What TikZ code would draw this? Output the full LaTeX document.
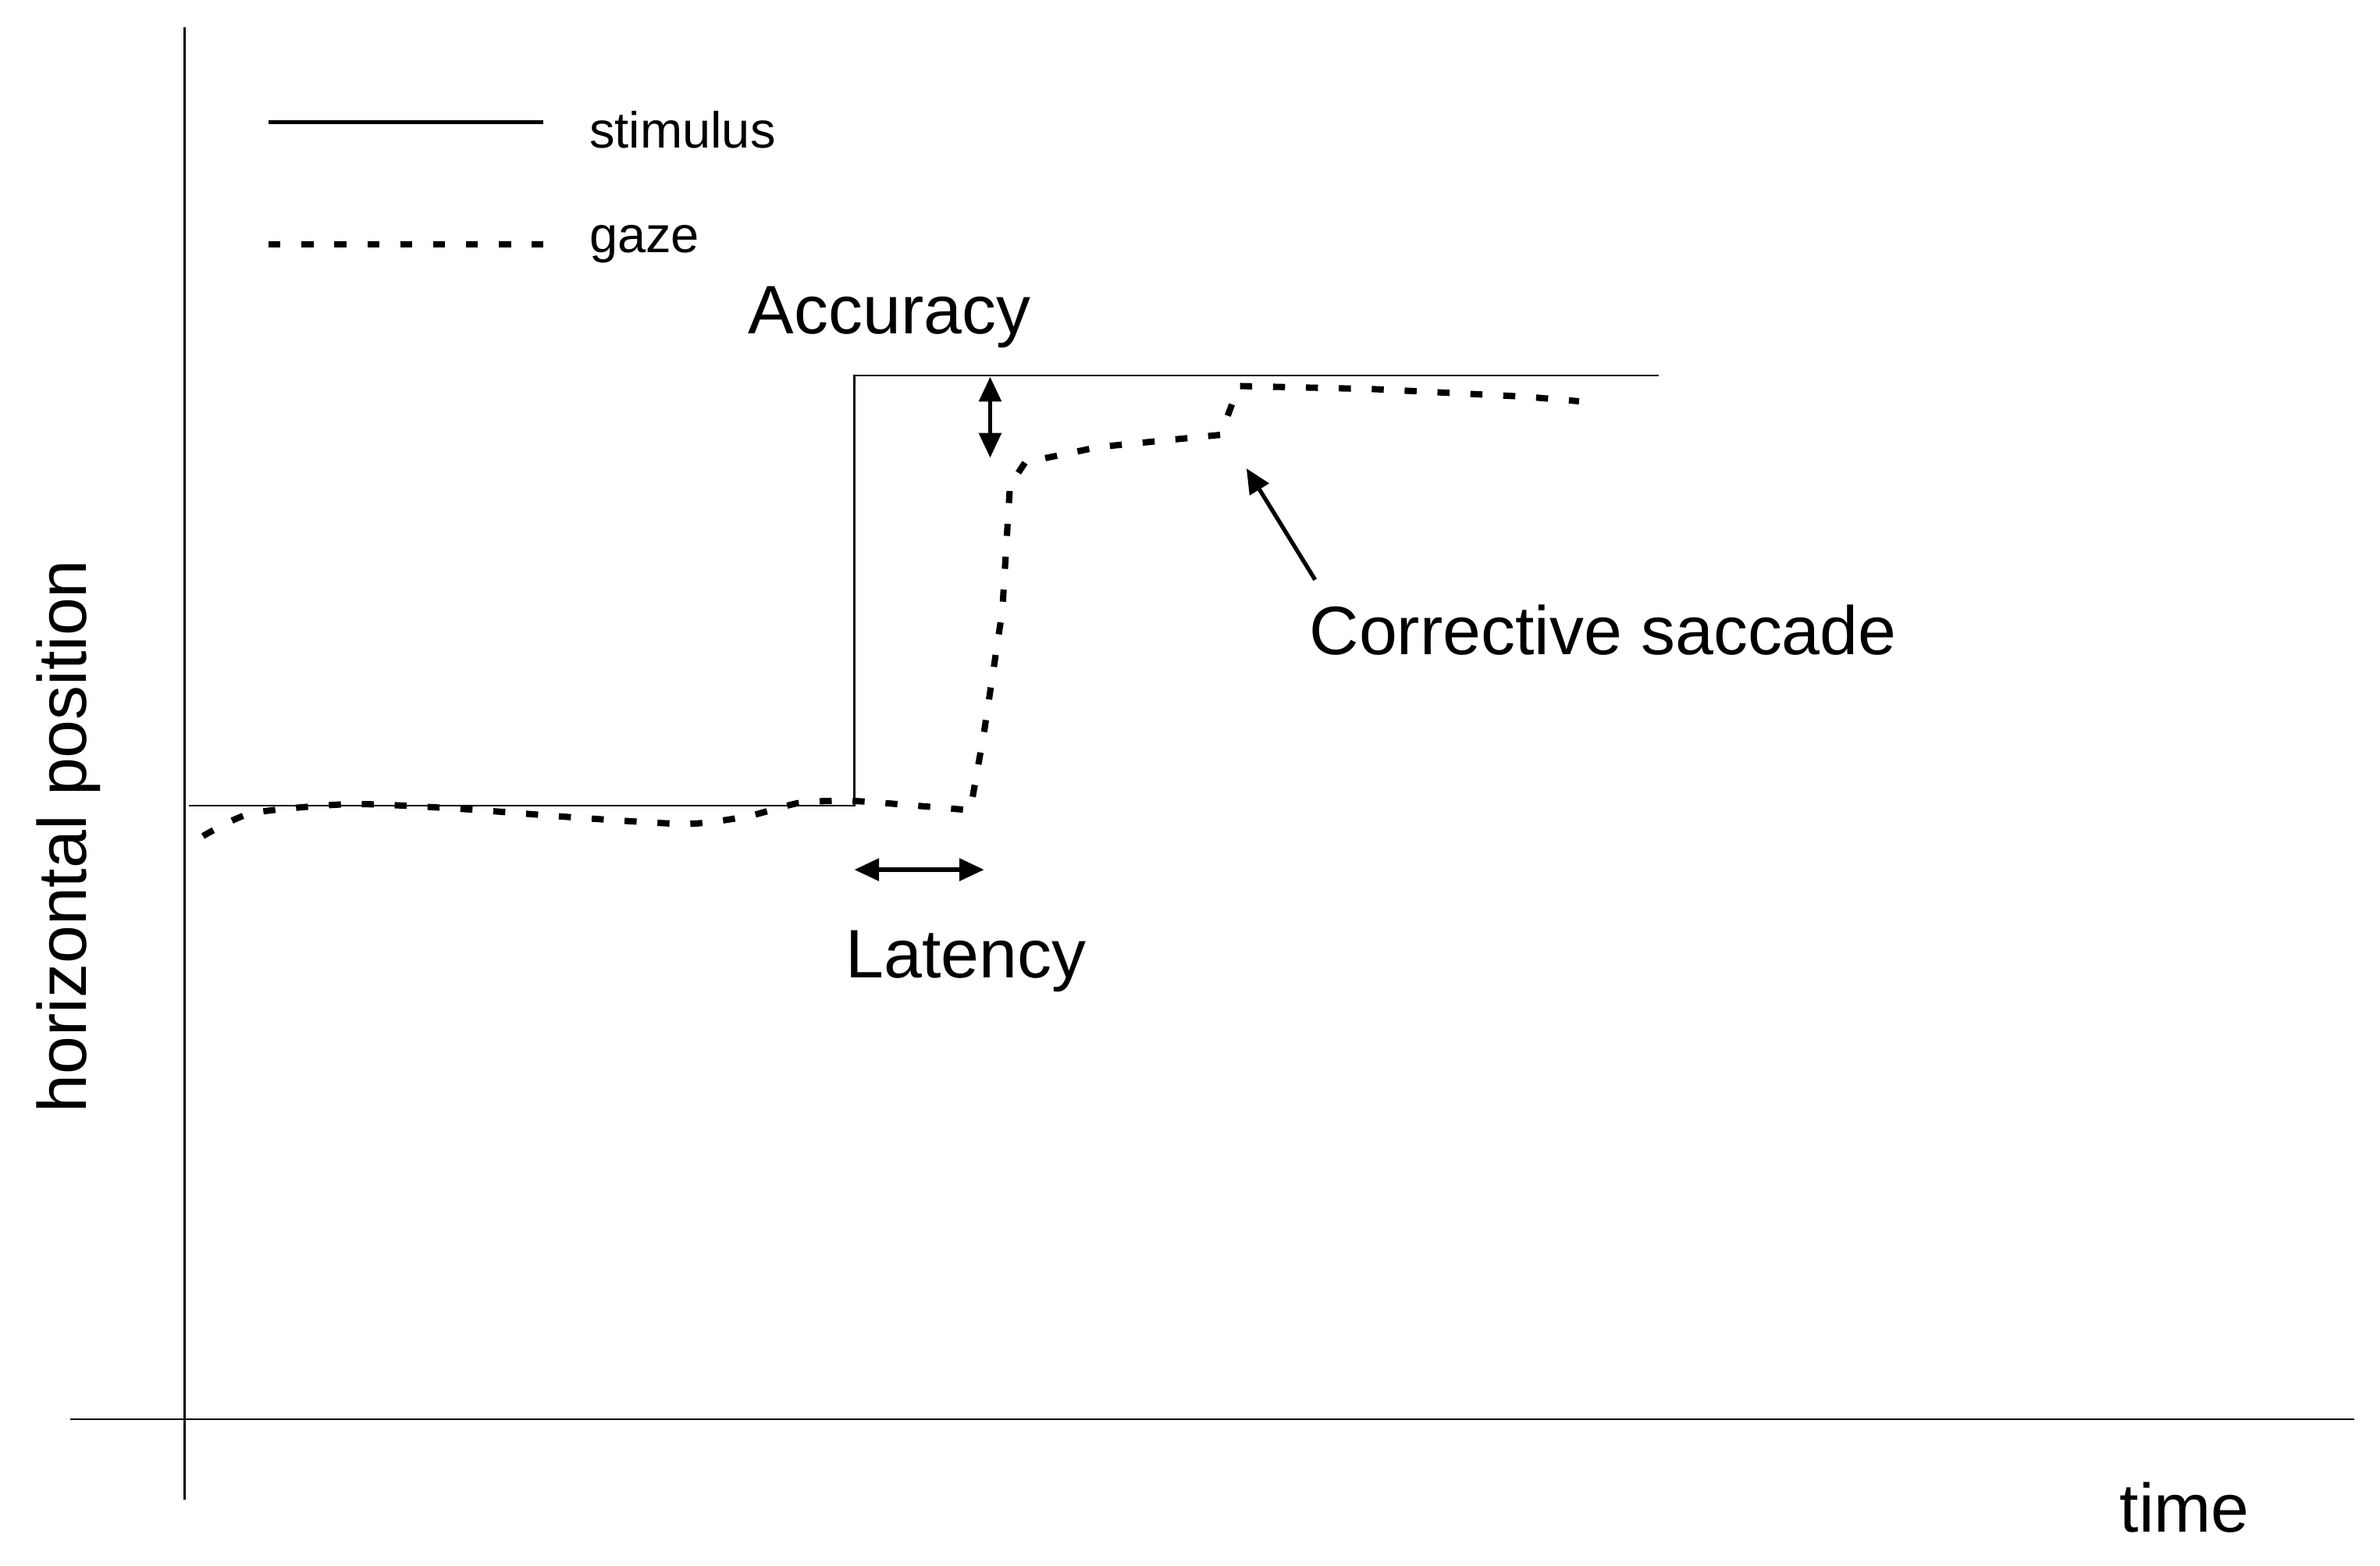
\documentclass[tikz,border=0pt]{standalone}
\usepackage{fontspec}
\setmainfont{Liberation Sans}
\usetikzlibrary{arrows.meta}
\begin{document}
\begin{tikzpicture}[x=0.01955cm,y=-0.01955cm,
  thin line/.style={line width=0.6pt},
  gaze/.style={line width=2.3pt,dash pattern=on 4.4pt off 7.6pt},
  big/.style={font=\fontsize{25}{30}\selectfont},
  small/.style={font=\fontsize{18.5}{22}\selectfont},
  darr/.style={line width=1.5pt,{Triangle[length=9pt,width=8pt]}-{Triangle[length=9pt,width=8pt]}},
  arr/.style={line width=1.5pt,-{Triangle[length=9pt,width=8pt]}}]
\useasboundingbox (0,0) rectangle (1560,1026);
% axes
\coordinate (yt) at (121,18); \coordinate (yb) at (121,983);
\coordinate (xl) at (46,930); \coordinate (xr) at (1543,930);
\draw[thin line] (yt) -- (yb);
\draw[thin line] (xl) -- (xr);
% stimulus
\coordinate (s0) at (124,528); \coordinate (s1) at (560,528);
\coordinate (s2) at (560,246); \coordinate (s3) at (1087,246);
\draw[thin line] (s0) -- (s1) -- (s2) -- (s3);
% legend
\coordinate (l1a) at (176,80); \coordinate (l1b) at (356,80);
\coordinate (l2a) at (176,160); \coordinate (l2b) at (356,160);
\draw[line width=1.3pt] (l1a) -- (l1b);
\draw[gaze] (l2a) -- (l2b);
\node[small,anchor=west] (stim) at (380,85) {stimulus};
\node[small,anchor=west] (gz) at (380,160) {gaze};
% gaze path
\draw[gaze] plot[smooth,tension=0.4] coordinates {(133,548) (165,533) (230,527) (300,530) (380,536) (450,540) (490,535) (525,526) (560,525) (600,528) (636,531)}
  -- (645,480) -- (657,400) -- (662,318) -- (672,303) -- (720,293) -- (800,285) -- (812,253) -- (900,255) -- (1000,260) -- (1035,263);
% accuracy
\coordinate (a1) at (649,247); \coordinate (a2) at (649,300);
\draw[darr] (a1) -- (a2);
\node[big] (acc) at (583,208) {Accuracy};
% latency
\coordinate (t1) at (560,570); \coordinate (t2) at (645,570);
\draw[darr] (t1) -- (t2);
\node[big] (lat) at (633,630) {Latency};
% corrective
\node[big,anchor=west] (cs) at (852,413) {Corrective saccade};
\coordinate (c1) at (862,380); \coordinate (c2) at (817,307);
\draw[arr] (c1) -- (c2);
% axis labels
\node[big] (time) at (1432,988) {time};
\node[big,rotate=90] (hp) at (45,548) {horizontal position};
\end{tikzpicture}
\end{document}
